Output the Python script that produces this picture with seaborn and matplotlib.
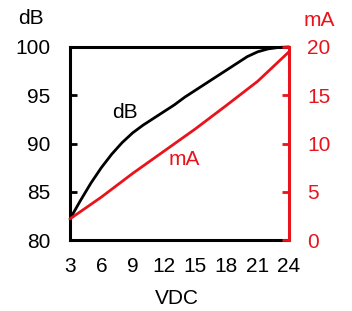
import matplotlib
matplotlib.use("Agg")
import matplotlib.pyplot as plt
import seaborn as sns
import pandas as pd

vdc = [3, 4, 5, 6, 7, 8, 9, 10, 11, 12, 13, 14, 15, 16, 17, 18, 19, 20, 21, 22, 23, 24]
db = [82.2, 84.1, 85.9, 87.5, 88.9, 90.1, 91.1, 91.9, 92.6, 93.3, 94.0, 94.8, 95.5,
      96.2, 96.9, 97.6, 98.3, 99.0, 99.5, 99.8, 99.95, 100.0]
vdc_ma = [3, 6, 9, 12, 15, 18, 21, 24]
ma = [2.2, 4.45, 6.9, 9.2, 11.5, 13.95, 16.45, 19.5]

xticks = [3, 6, 9, 12, 15, 18, 21, 24]
db_ticks = [80, 85, 90, 95, 100]
ma_ticks = [0, 5, 10, 15, 20]

RED = "#e8141c"

sns.set_style("white")
plt.rcParams["font.family"] = ["Liberation Sans", "DejaVu Sans"]
plt.rcParams["text.color"] = "black"

fig = plt.figure(figsize=(3.52, 3.11), dpi=100)
ax = fig.add_axes([0.199, 0.228, 0.622, 0.621])
ax2 = ax.twinx()

df_db = pd.DataFrame({"VDC": vdc, "dB": db})
df_ma = pd.DataFrame({"VDC": vdc_ma, "mA": ma})

sns.lineplot(data=df_db, x="VDC", y="dB", ax=ax, color="black", lw=2.0, clip_on=False)
sns.lineplot(data=df_ma, x="VDC", y="mA", ax=ax2, color=RED, lw=2.0, clip_on=False)

ax.set_xlim(3, 24)
ax.set_ylim(80, 100)
ax2.set_ylim(0, 20)
ax.set_xticks(xticks)
ax.set_yticks(db_ticks)
ax2.set_yticks(ma_ticks)

fs = 15
ax.tick_params(axis="both", direction="in", length=5, width=2, labelsize=fs,
               colors="black", labelcolor="black")
ax.tick_params(axis="y", pad=14)
ax.tick_params(axis="x", pad=12)
ax2.tick_params(axis="y", direction="in", length=5, width=2, labelsize=fs,
                colors=RED, labelcolor=RED, pad=13)

for s in ["left", "bottom", "top"]:
    ax.spines[s].set_visible(True)
    ax.spines[s].set_color("black")
    ax.spines[s].set_linewidth(2.2)
ax.spines["right"].set_visible(False)
for s in ["left", "bottom", "top"]:
    ax2.spines[s].set_visible(False)
ax2.spines["right"].set_visible(True)
ax2.spines["right"].set_color(RED)
ax2.spines["right"].set_linewidth(2.2)

ax.set_ylabel("")
ax2.set_ylabel("")
ax.set_xlabel("")
fig.text(177 / 352, 1 - 298.5 / 311, "VDC", fontsize=fs, ha="center", va="center", color="black")

fig.text(30.5 / 352, 1 - 19 / 311, "dB", fontsize=fs, ha="center", va="center", color="black")
fig.text(319 / 352, 1 - 20 / 311, "mA", fontsize=fs, ha="center", va="center", color=RED)

ax.text(8.3, 93.2, "dB", fontsize=fs, ha="center", va="center", color="black")
ax.text(14.0, 88.3, "mA", fontsize=fs, ha="center", va="center", color=RED)

fig.savefig("out.png", dpi=100)
